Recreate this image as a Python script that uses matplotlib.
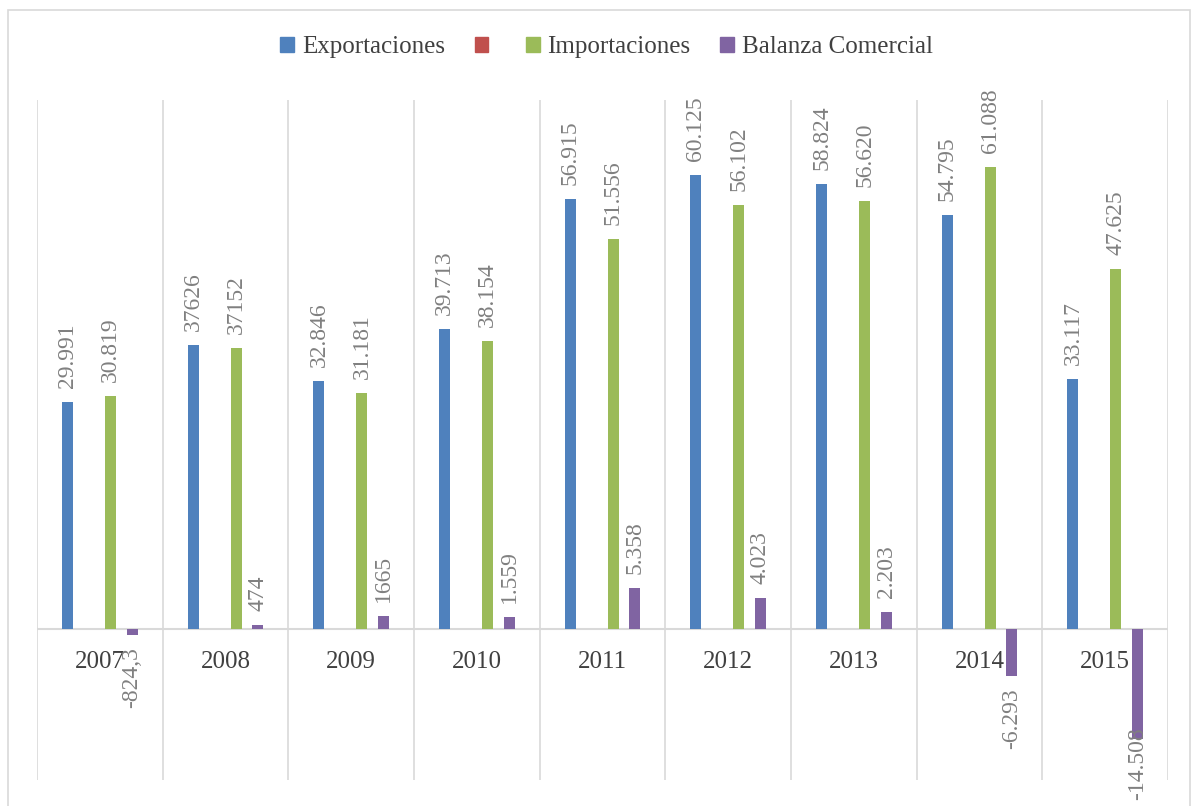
import matplotlib.pyplot as plt
from matplotlib.patches import Rectangle
import numpy as np

plt.rcParams['font.family'] = ['Liberation Serif', 'DejaVu Serif']

years = ['2007', '2008', '2009', '2010', '2011', '2012', '2013', '2014', '2015']
exportaciones = [29.991, 37.626, 32.846, 39.713, 56.915, 60.125, 58.824, 54.795, 33.117]
importaciones = [30.819, 37.152, 31.181, 38.154, 51.556, 56.102, 56.620, 61.088, 47.625]
balanza = [-0.8243, 0.474, 1.665, 1.559, 5.358, 4.023, 2.203, -6.293, -14.508]

exp_labels = ['29.991', '37626', '32.846', '39.713', '56.915', '60.125', '58.824', '54.795', '33.117']
imp_labels = ['30.819', '37152', '31.181', '38.154', '51.556', '56.102', '56.620', '61.088', '47.625']
bal_labels = ['-824,3', '474', '1665', '1.559', '5.358', '4.023', '2.203', '-6.293', '-14.508']

c_exp = '#4F81BD'
c_red = '#C0504D'
c_imp = '#9BBB59'
c_bal = '#8064A2'

fig = plt.figure(figsize=(11.94, 8.06), dpi=100)
fig.patches.append(Rectangle((8/1194, -0.01), 1182/1194, 1 - 10/806 + 0.01,
                             transform=fig.transFigure, fill=False,
                             edgecolor='#d9d9d9', linewidth=1.2))

ax = fig.add_axes([37/1194, 26/806, (1168-37)/1194, (780-100)/806])

ymin, ymax = -20, 70
x = np.arange(len(years)) + 0.5
slot = 0.171
w = 0.088

ax.bar(x - 1.5*slot, exportaciones, w, color=c_exp, zorder=3)
ax.bar(x + 0.5*slot, importaciones, w, color=c_imp, zorder=3)
ax.bar(x + 1.5*slot, balanza, w, color=c_bal, zorder=3)

lab_color = '#808080'
for xs, vals, labs in [(x - 1.5*slot, exportaciones, exp_labels),
                       (x + 0.5*slot, importaciones, imp_labels),
                       (x + 1.5*slot, balanza, bal_labels)]:
    for xi, v, t in zip(xs, vals, labs):
        if v >= 0:
            ax.annotate(t, (xi, v), xytext=(0, 14), textcoords='offset pixels',
                        rotation=90, ha='center', va='bottom', fontsize=17,
                        color=lab_color, zorder=4)
        elif v > -10:
            ax.annotate(t, (xi, v), xytext=(0, -12), textcoords='offset pixels',
                        rotation=90, ha='center', va='top', fontsize=17,
                        color=lab_color, zorder=4, annotation_clip=False)
        else:
            # too long to fit below the bar: pushed up to stay inside the chart
            ax.annotate(t, (xi, ymin), xytext=(0, -20), textcoords='offset pixels',
                        rotation=90, ha='center', va='bottom', fontsize=17,
                        color=lab_color, zorder=4, annotation_clip=False)

for xi, y in zip(x, years):
    ax.annotate(y, (xi, 0), xytext=(0, -33), textcoords='offset pixels',
                ha='center', va='center', fontsize=18, color='#404040', zorder=2)

ax.set_xlim(0, len(years))
ax.set_ylim(ymin, ymax)
for g in range(len(years) + 1):
    ax.axvline(g, color='#d9d9d9', linewidth=1.2, zorder=1)
ax.axhline(0, color='#d9d9d9', linewidth=1.5, zorder=2)

ax.set_xticks([])
ax.set_yticks([])
for s in ax.spines.values():
    s.set_visible(False)

handles = [Rectangle((0, 0), 1, 1, color=c) for c in [c_exp, c_red, c_imp, c_bal]]
fig.legend(handles, ['Exportaciones', '', 'Importaciones', 'Balanza Comercial'],
           loc='center', bbox_to_anchor=(0.508, 1 - 47/806), ncol=4, frameon=False,
           fontsize=18, handlelength=0.55, handleheight=0.55, handletextpad=0.3,
           columnspacing=1.2, labelcolor='#404040')

fig.savefig('out.png', dpi=100)
